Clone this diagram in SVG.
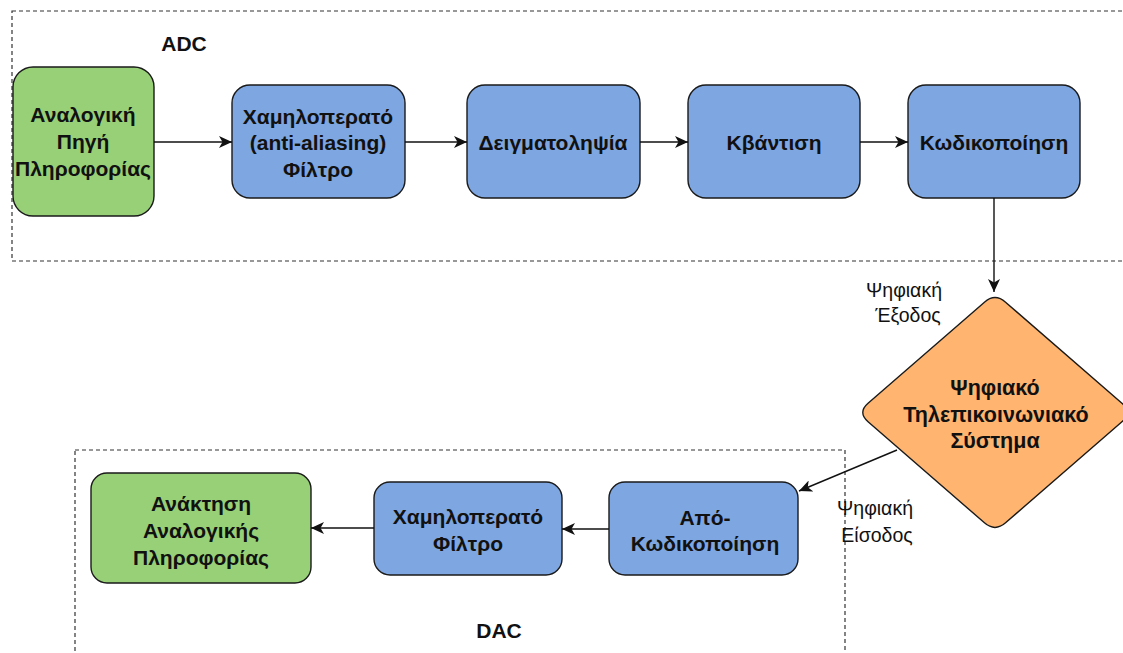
<svg xmlns="http://www.w3.org/2000/svg" width="1123" height="653" viewBox="0 0 1123 653">
  <style>
    .group { fill: none; stroke: #333333; stroke-width: 1.2; stroke-dasharray: 4 3; }
    .src { fill: #97D077; stroke: #1a1a1a; stroke-width: 1.4; }
    .blk { fill: #7EA6E0; stroke: #1a1a1a; stroke-width: 1.4; }
    .chan { fill: #FFB570; stroke: #1a1a1a; stroke-width: 1.4; }
    .t1 { font-family: "Liberation Sans", Arial, sans-serif; font-size: 21px; font-weight: bold; fill: #111; text-anchor: middle; dominant-baseline: central; }
    .t2 { font-family: "Liberation Sans", Arial, sans-serif; font-size: 21.5px; font-weight: bold; fill: #111; text-anchor: middle; dominant-baseline: central; }
    .lbl { font-family: "Liberation Sans", Arial, sans-serif; font-size: 19.5px; fill: #111; text-anchor: middle; dominant-baseline: central; }
    .title { font-family: "Liberation Sans", Arial, sans-serif; font-size: 21px; font-weight: bold; fill: #111; text-anchor: middle; dominant-baseline: central; }
    .edge { fill: none; stroke: #111; stroke-width: 1.4; }
  </style>
  <defs>
    <marker id="arrow" markerUnits="userSpaceOnUse" markerWidth="14" markerHeight="12" refX="13" refY="6" orient="auto">
      <path d="M0,0 L13,6 L0,12 L3.5,6 Z" fill="#111"/>
    </marker>
  </defs>
  <rect width="1123" height="653" fill="#ffffff"/>

  <!-- ADC / DAC boundaries -->
  <g id="adc-group">
    <rect class="group" x="12" y="11" width="1130" height="250"/>
    <text class="title" x="184" y="43">ADC</text>
  </g>
  <g id="dac-group">
    <rect class="group" x="75" y="450" width="770" height="230"/>
    <text class="title" x="499" y="630">DAC</text>
  </g>

  <!-- transmitter chain -->
  <g id="source">
    <rect class="src" x="13" y="67" width="141" height="149" rx="20"/>
    <text class="t1" x="83" y="114">Αναλογική</text>
    <text class="t1" x="83" y="141">Πηγή</text>
    <text class="t1" x="83" y="168">Πληροφορίας</text>
  </g>
  <g id="aa-filter">
    <rect class="blk" x="232" y="85" width="173" height="113" rx="18"/>
    <text class="t1" x="318" y="116">Χαμηλοπερατό</text>
    <text class="t1" x="318" y="142">(anti-aliasing)</text>
    <text class="t1" x="318" y="169">Φίλτρο</text>
  </g>
  <g id="sampling">
    <rect class="blk" x="467" y="85" width="173" height="113" rx="18"/>
    <text class="t1" x="553" y="142">Δειγματοληψία</text>
  </g>
  <g id="quantization">
    <rect class="blk" x="688" y="85" width="172" height="113" rx="18"/>
    <text class="t1" x="774" y="142">Κβάντιση</text>
  </g>
  <g id="encoding">
    <rect class="blk" x="908" y="85" width="172" height="113" rx="18"/>
    <text class="t1" x="994" y="142">Κωδικοποίηση</text>
  </g>

  <!-- channel -->
  <g id="channel">
    <path class="chan" d="M984.44,302.18 Q995,293 1005.56,302.18 L1121.94,403.32 Q1132.5,412.5 1121.94,421.68 L1005.56,522.82 Q995,532 984.44,522.82 L868.06,421.68 Q857.5,412.5 868.06,403.32 Z"/>
    <text class="t2" x="995" y="388">Ψηφιακό</text>
    <text class="t2" x="996" y="415">Τηλεπικοινωνιακό</text>
    <text class="t2" x="995" y="441">Σύστημα</text>
  </g>

  <!-- receiver chain -->
  <g id="decoding">
    <rect class="blk" x="609" y="482" width="189" height="93" rx="16"/>
    <text class="t1" x="705" y="517">Από-</text>
    <text class="t1" x="705" y="543">Κωδικοποίηση</text>
  </g>
  <g id="lp-filter">
    <rect class="blk" x="374" y="482" width="188" height="93" rx="16"/>
    <text class="t1" x="468" y="516">Χαμηλοπερατό</text>
    <text class="t1" x="468" y="543">Φίλτρο</text>
  </g>
  <g id="recovery">
    <rect class="src" x="91" y="473" width="220" height="110" rx="16"/>
    <text class="t1" x="201" y="503">Ανάκτηση</text>
    <text class="t1" x="201" y="530">Αναλογικής</text>
    <text class="t1" x="201" y="557">Πληροφορίας</text>
  </g>

  <!-- connectors -->
  <g id="connectors">
    <line class="edge" x1="154" y1="142" x2="232" y2="142" marker-end="url(#arrow)"/>
    <line class="edge" x1="405" y1="142" x2="467" y2="142" marker-end="url(#arrow)"/>
    <line class="edge" x1="640" y1="142" x2="688" y2="142" marker-end="url(#arrow)"/>
    <line class="edge" x1="860" y1="142" x2="908" y2="142" marker-end="url(#arrow)"/>
    <line class="edge" x1="994" y1="198" x2="994" y2="292" marker-end="url(#arrow)"/>
    <line class="edge" x1="897" y1="450" x2="799" y2="491" marker-end="url(#arrow)"/>
    <line class="edge" x1="609" y1="529" x2="562" y2="529" marker-end="url(#arrow)"/>
    <line class="edge" x1="374" y1="528" x2="311" y2="528" marker-end="url(#arrow)"/>
    <text class="lbl" x="904" y="290">Ψηφιακή</text>
    <text class="lbl" x="908" y="315">Έξοδος</text>
    <text class="lbl" x="875" y="508">Ψηφιακή</text>
    <text class="lbl" x="877" y="535">Είσοδος</text>
  </g>
</svg>
